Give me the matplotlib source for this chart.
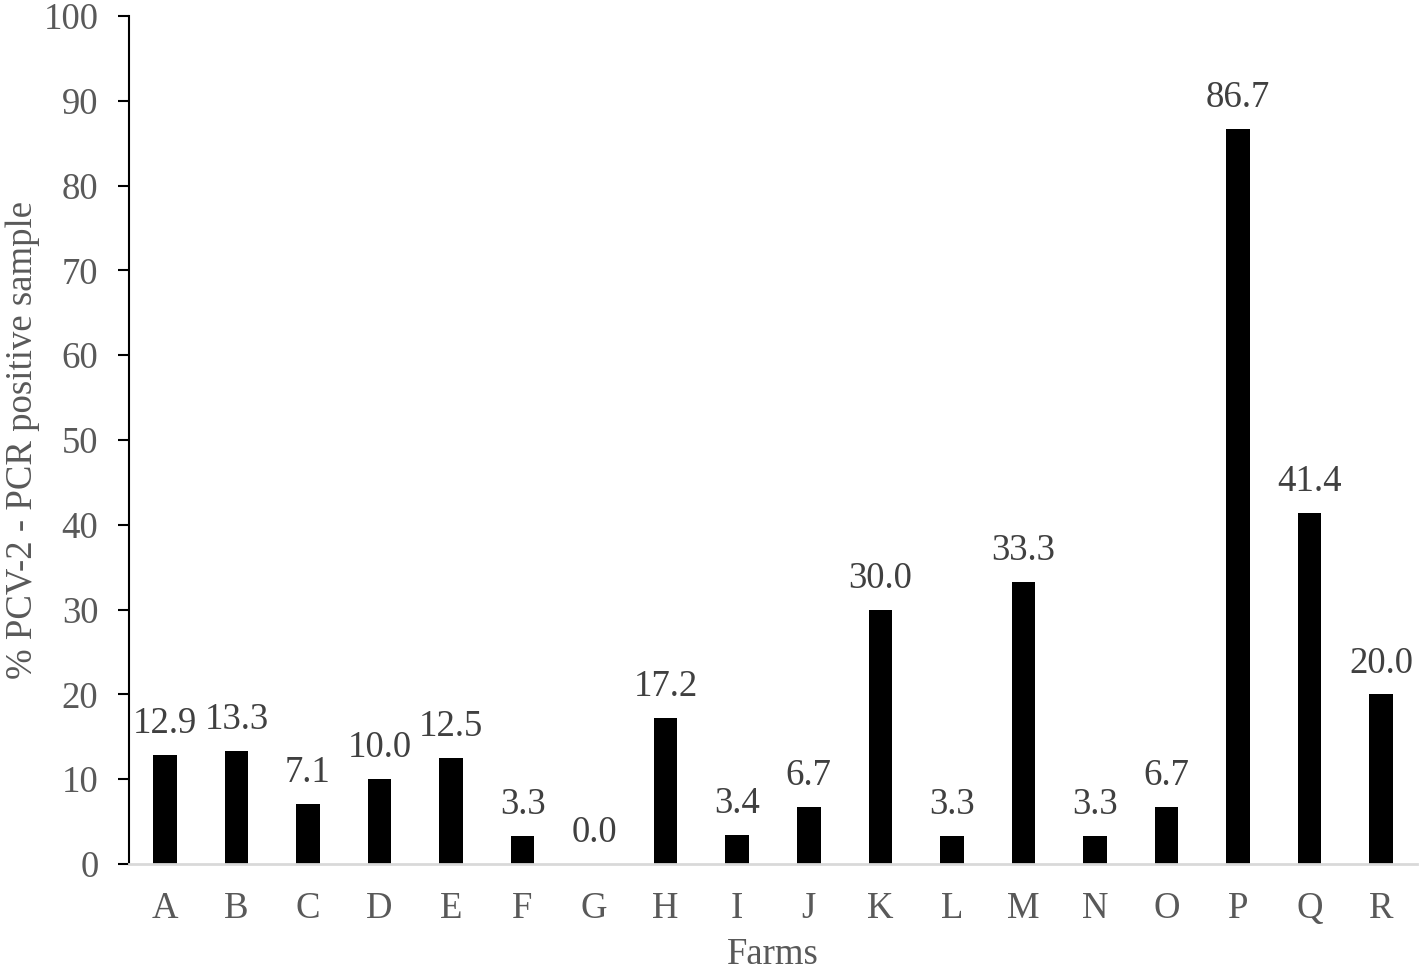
import matplotlib
matplotlib.use("Agg")
import matplotlib.pyplot as plt

farms = ["A", "B", "C", "D", "E", "F", "G", "H", "I", "J", "K", "L", "M", "N", "O", "P", "Q", "R"]
positive_pct = [12.9, 13.3, 7.1, 10.0, 12.5, 3.3, 0.0, 17.2, 3.4, 6.7, 30.0, 3.3, 33.3, 3.3, 6.7, 86.7, 41.4, 20.0]
yticks = [0, 10, 20, 30, 40, 50, 60, 70, 80, 90, 100]

plt.rcParams['font.family'] = ['Liberation Serif', 'DejaVu Serif']
FS = 26.5
GRAY = '#595959'

fig = plt.figure(figsize=(14.21, 9.71), dpi=100)
ax = fig.add_axes([129/1421, 1 - 864/971, (1417 - 129)/1421, (864 - 16)/971])

x = list(range(len(farms)))
bars = ax.bar(x, positive_pct, width=0.33, color='black')
for xi, v in zip(x, positive_pct):
    ax.annotate(f"{v:.1f}", (xi, v), xytext=(0, 10), textcoords='offset points',
                ha='center', va='bottom', fontsize=FS, color='#404040')

ax.set_xlim(-0.5, len(farms) - 0.5)
ax.set_ylim(0, 100)
ax.set_yticks(yticks)
ax.set_xticks(x)
ax.set_xticklabels(farms)
ax.tick_params(axis='y', direction='out', length=8, width=1.5, color='black',
               labelsize=FS, labelcolor=GRAY, pad=14)
ax.tick_params(axis='x', length=0, labelsize=FS, labelcolor=GRAY, pad=20)

for s in ['top', 'right']:
    ax.spines[s].set_visible(False)
ax.spines['left'].set_color('black')
ax.spines['left'].set_linewidth(1.5)
ax.spines['bottom'].set_color('#d9d9d9')
ax.spines['bottom'].set_linewidth(2)

ax.set_xlabel("Farms", fontsize=FS, color=GRAY, labelpad=8)
ax.set_ylabel("% PCV-2 - PCR positive sample", fontsize=FS, color=GRAY)
ax.yaxis.set_label_coords(-0.069, 0.5)

fig.savefig("out.png", dpi=100)
